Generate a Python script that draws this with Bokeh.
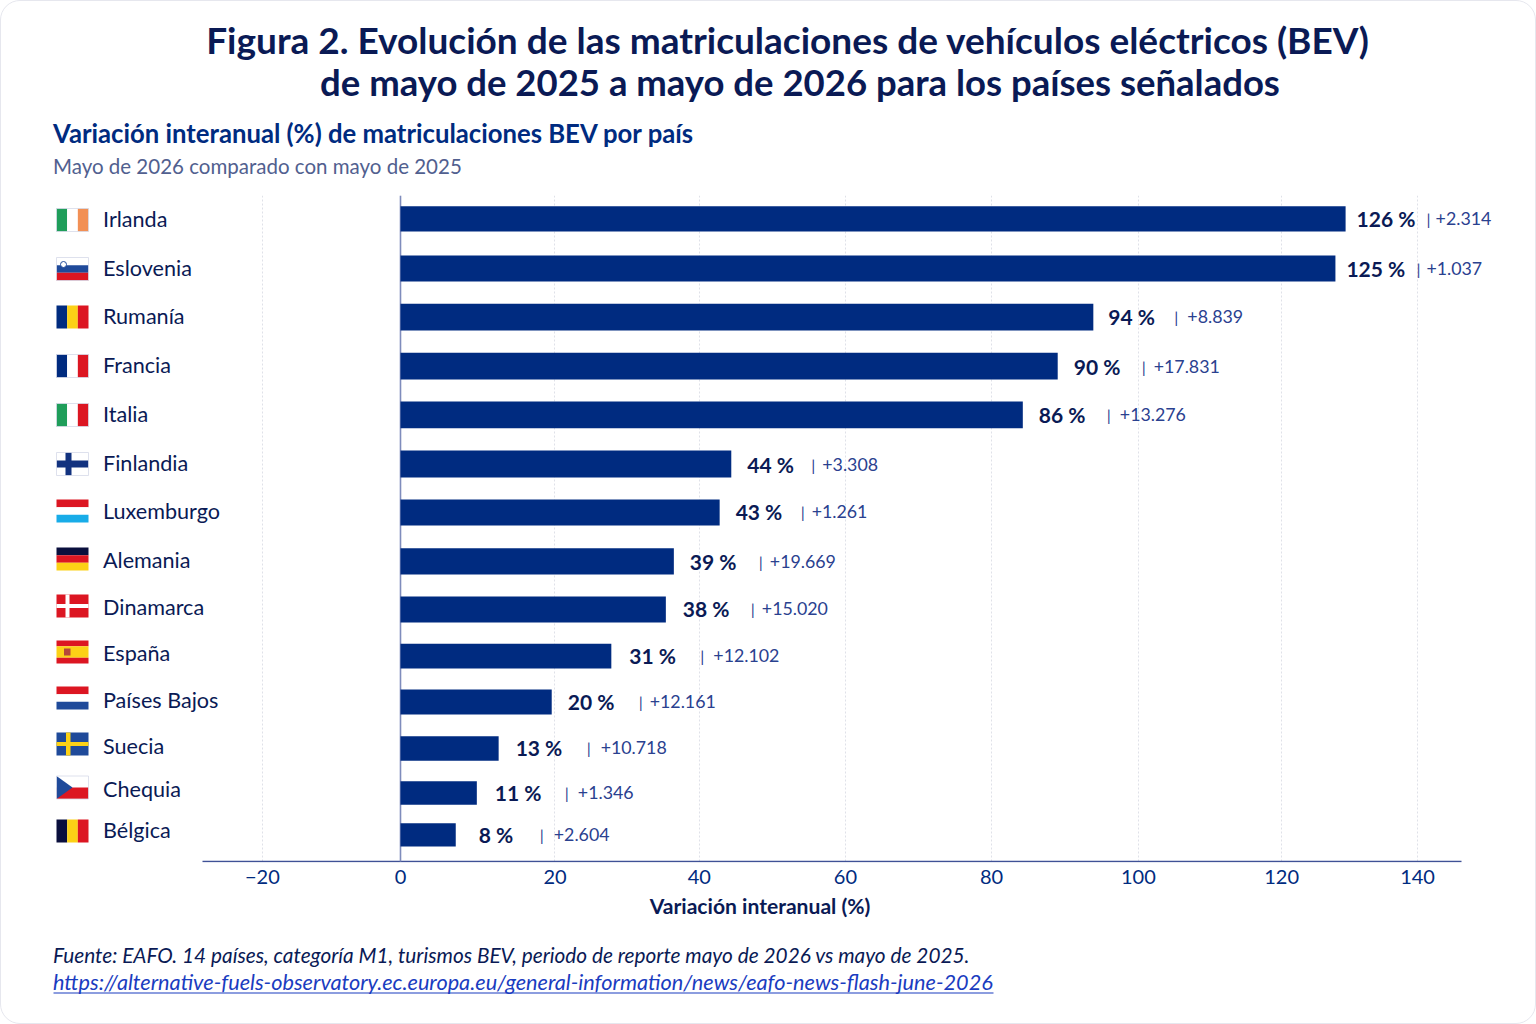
from bokeh.embed import file_html
from bokeh.resources import INLINE
from bokeh.plotting import figure
from bokeh.layouts import column
from bokeh.models import Range1d, FixedTicker, ColumnDataSource
from bokeh.core.properties import value

# ---- data
countries = ["Irlanda","Eslovenia","Rumanía","Francia","Italia","Finlandia","Luxemburgo","Alemania","Dinamarca","España","Países Bajos","Suecia","Chequia","Bélgica"]
bar_lengths = [130.0,128.6,95.3,90.4,85.6,45.5,43.9,37.6,36.5,29.0,20.8,13.5,10.5,7.6]
pct_labels = ["126 %","125 %","94 %","90 %","86 %","44 %","43 %","39 %","38 %","31 %","20 %","13 %","11 %","8 %"]
delta_labels = ["+2.314","+1.037","+8.839","+17.831","+13.276","+3.308","+1.261","+19.669","+15.020","+12.102","+12.161","+10.718","+1.346","+2.604"]
tick_labels = ["−20","0","20","40","60","80","100","120","140"]
tick_positions = [-19.0,0.0,21.25,41.1,61.2,81.3,101.5,121.2,139.9]

# ---- layout (page pixels)
FONT = "Lato"
PX_PER_UNIT = 7.27
X0 = 400
W, H = 1536, 1024
FT, FB, PB = 195, 862, 890
def dx(px): return (px - X0) / PX_PER_UNIT
bar_y = [218.4,268,316.7,365.7,414.3,463.5,512,560.8,609,655.7,701.5,748,792.5,834.3]
bar_h = [25.3,26,26.7,26.7,26.7,27,26,26.3,26,24.7,25,24.6,23.6,23.3]
name_y = [220,269,317,366,415,464,512,561,608,654,701,747,790,831]
flag_y = [219.5,268.5,316.5,365.5,414.5,463.5,510.5,558.5,605.5,651.5,697.5,743.5,787,830.5]
val_y = [219,269,317,367,415,465,512,562,609,656,702,748,793,835]
pct_off = [11,11,15,16,16,16,16,16,17,18,16,17,18,23]
sep_off = [81,81,81,84,84,80,81,85,85,89,87,88,88,84]
delta_off = [90,91,94,96,97,91,92,96,96,102,98,102,101,98]

NAVY = "#0a1a55"; BLUE = "#002b80"; MID = "#2a418f"; AXIS = "#3f5196"; LINK = "#1a3cc0"

p = figure(width=W, height=PB-FT, output_backend="svg", toolbar_location=None,
           x_range=Range1d(dx(0), dx(W)), y_range=Range1d(FB, FT),
           min_border_left=0, min_border_right=0, min_border_top=0, min_border_bottom=PB-FB,
           outline_line_color=None, background_fill_color=None, border_fill_color=None)

ax = p.xaxis[0]
ax.ticker = FixedTicker(ticks=tick_positions)
ax.major_label_overrides = {t: l for t, l in zip(tick_positions, tick_labels)}
ax.axis_line_color = None
ax.major_tick_line_color = None
ax.minor_tick_line_color = None
ax.major_label_text_font = FONT
ax.major_label_text_font_size = "20px"
ax.major_label_text_color = BLUE
ax.major_label_standoff = 1
p.yaxis.visible = False
p.ygrid.visible = False
p.xgrid.grid_line_color = "#dfe1e8"
p.xgrid.grid_line_dash = "2 2"
p.xgrid.grid_line_width = 1

# axis lines
p.segment(x0=[dx(202)], x1=[dx(1461)], y0=[861], y1=[861], line_color=AXIS, line_width=1.6)
p.segment(x0=[0], x1=[0], y0=[195], y1=[861], line_color="#7f8cbc", line_width=1.6)

# bars
p.hbar(y=bar_y, left=0, right=bar_lengths, height=bar_h, fill_color=BLUE, line_color=None)

# country names
p.text(x=[dx(102.5)]*14, y=name_y, text=countries, text_font=value(FONT), text_font_size="21.6px",
       text_color=NAVY, text_baseline="middle", text_align="left", y_offset=-1.5)

# value labels
src = ColumnDataSource(dict(x=bar_lengths, y=val_y, pct=pct_labels, d=delta_labels, s=["|"]*14,
                            po=pct_off, so=sep_off, dd=delta_off))
p.text(x="x", y="y", text="pct", x_offset="po", y_offset=-1.5, source=src, text_font=value(FONT), text_font_style="bold",
       text_font_size="21px", text_color=NAVY, text_baseline="middle")
p.text(x="x", y="y", text="s", x_offset="so", y_offset=-1, source=src, text_font=value(FONT),
       text_font_size="16px", text_color=MID, text_baseline="middle")
p.text(x="x", y="y", text="d", x_offset="dd", y_offset=-1, source=src, text_font=value(FONT),
       text_font_size="17.8px", text_color=MID, text_baseline="middle")

# flags
RED="#dc1622"; WHITE="#ffffff"; GREEN="#1f9e5a"; ORANGE="#f29055"; ROYAL="#002b7f"; YEL="#fcd116"; DARK="#0a0f3d"; COB="#1f4a9a"; SKY="#18ace8"
FL, FW, FH = 56, 32, 23
vertical = {"Irlanda":(GREEN,WHITE,ORANGE),"Rumanía":(ROYAL,YEL,RED),"Francia":(ROYAL,WHITE,RED),"Italia":(GREEN,WHITE,RED),"Bélgica":(DARK,YEL,RED)}
horizontal = {"Eslovenia":(WHITE,COB,RED),"Luxemburgo":(RED,WHITE,SKY),"Alemania":(DARK,RED,YEL),"Países Bajos":(RED,WHITE,COB),"España":(RED,YEL,YEL,RED)}
crosses = {"Finlandia":(WHITE,"#12327f",65,6,7),"Dinamarca":(RED,WHITE,65,4,4),"Suecia":(COB,YEL,65.5,4.5,4)}
L,R,T,B,C=[],[],[],[],[]
def box(l,r,t,b,c):
    L.append(dx(l));R.append(dx(r));T.append(t);B.append(b);C.append(c)
for name,cy in zip(countries,flag_y):
    top=cy-FH/2
    if name in vertical:
        for i,c in enumerate(vertical[name]):
            box(FL+i*FW/3,FL+(i+1)*FW/3,top,top+FH,c)
    elif name in horizontal:
        cs=horizontal[name]
        for i,c in enumerate(cs):
            box(FL,FL+FW,top+i*FH/len(cs),top+(i+1)*FH/len(cs),c)
    elif name in crosses:
        bg,fg,cx,cw,chh=crosses[name]
        box(FL,FL+FW,top,top+FH,bg)
        box(cx,cx+cw,top,top+FH,fg)
        box(FL,FL+FW,cy-chh/2,cy+chh/2,fg)
    else:
        box(FL,FL+FW,top,cy,WHITE)
        box(FL,FL+FW,cy,top+FH,RED)
p.quad(left=L,right=R,top=T,bottom=B,fill_color=C,line_color=None)
iy=dict(zip(countries,flag_y))
p.patches(xs=[[dx(FL),dx(FL+16),dx(FL)]],ys=[[iy["Chequia"]-FH/2,iy["Chequia"],iy["Chequia"]+FH/2]],fill_color=COB,line_color=None)
p.quad(left=[dx(63.5)],right=[dx(70)],top=[iy["España"]-3.5],bottom=[iy["España"]+3.5],fill_color="#b5473a",line_color=None)
p.scatter(x=[dx(63)],y=[iy["Eslovenia"]-4.5],size=6,fill_color=WHITE,line_color=COB,line_width=1)
outl=[n for n in countries if n in ("Irlanda","Eslovenia","Francia","Italia","Finlandia","Chequia")]
p.quad(left=[dx(FL)]*len(outl),right=[dx(FL+FW)]*len(outl),top=[iy[n]-FH/2 for n in outl],bottom=[iy[n]+FH/2 for n in outl],
       fill_color=None,line_color="#d5d9e8",line_width=0.8)

# title and footer strips above and below the chart; their y runs in page pixels
def strip(y0, y1):
    f = figure(width=W, height=y1-y0, output_backend="svg", toolbar_location=None,
               x_range=Range1d(0, W), y_range=Range1d(y1, y0), x_axis_type=None, y_axis_type=None,
               min_border=0, outline_line_color=None, background_fill_color=None, border_fill_color=None)
    f.xgrid.visible = False
    f.ygrid.visible = False
    return f
head = strip(0, FT)
foot = strip(PB, H)
def lab(f,px,y,t,size,color,style="normal",align="left"):
    f.text(x=[px],y=[y],text=[t],text_font=value(FONT),text_font_size=size,text_color=color,text_font_style=style,
           text_align=align,text_baseline="middle")
lab(head,787.5,38.5,"Figura 2. Evolución de las matriculaciones de vehículos eléctricos (BEV)","37px",NAVY,"bold","center")
lab(head,799.5,81.5,"de mayo de 2025 a mayo de 2026 para los países señalados","36.5px",NAVY,"bold","center")
lab(head,52.5,132.5,"Variación interanual (%) de matriculaciones BEV por país","25.7px",BLUE,"bold")
lab(head,52.5,165.5,"Mayo de 2026 comparado con mayo de 2025","20.5px","#51608f")
lab(foot,759.5,904.5,"Variación interanual (%)","21.1px",NAVY,"bold","center")
lab(foot,52.5,953.5,"Fuente: EAFO. 14 países, categoría M1, turismos BEV, periodo de reporte mayo de 2026 vs mayo de 2025.","20.8px",NAVY,"italic")
lab(foot,52.5,981.5,"https://alternative-fuels-observatory.ec.europa.eu/general-information/news/eafo-news-flash-june-2026","21.7px",LINK,"italic")
foot.segment(x0=[53],x1=[993],y0=[992.5],y1=[992.5],line_color=LINK,line_width=1.2)

page = column(head, p, foot, spacing=0,
              styles={"outline":"1px solid #e6e7ee","outline-offset":"-1px","border-radius":"20px"})
open("out.html","w").write(file_html(page,INLINE))
